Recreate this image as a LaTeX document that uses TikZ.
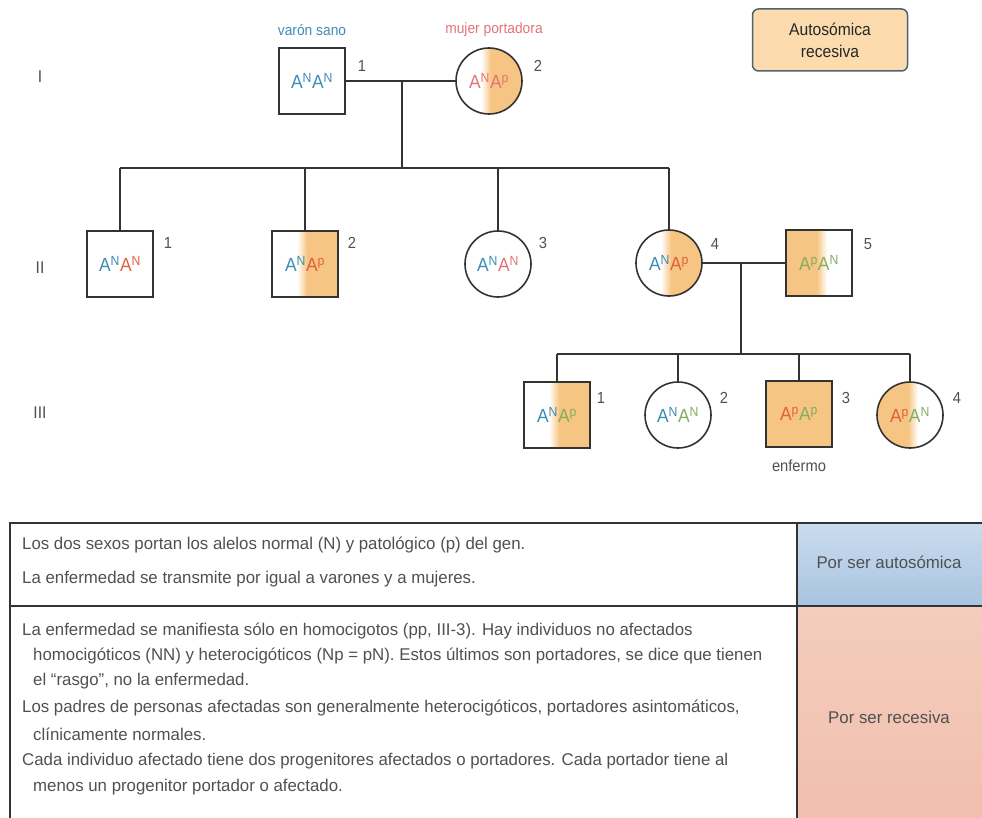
\documentclass[tikz,border=0pt]{standalone}
\usepackage{fontspec}
\setmainfont{Liberation Sans}
\newfontfamily\cond[FakeStretch=0.92]{Liberation Sans}
\newfontfamily\tabfont[FakeStretch=0.99]{Liberation Sans}
\usetikzlibrary{positioning}
\definecolor{ln}{HTML}{333333}
\definecolor{carr}{HTML}{F7C583}
\definecolor{tealc}{HTML}{3C8DB3}
\definecolor{redc}{HTML}{E0603E}
\definecolor{pinkc}{HTML}{E27478}
\definecolor{greenc}{HTML}{84AD5C}
\definecolor{txt}{HTML}{505050}
\definecolor{legfill}{HTML}{FCDCAE}
\definecolor{legdraw}{HTML}{4A6470}
\definecolor{bluetop}{HTML}{CADCEE}
\definecolor{bluebot}{HTML}{A8C4E0}
\definecolor{saltop}{HTML}{F4CDBC}
\definecolor{salbot}{HTML}{F1BFAE}
\newcommand{\genot}[4]{\textcolor{#1}{A\textsuperscript{#2}}\textcolor{#3}{A\textsuperscript{#4}}}
\tikzset{
  indiv/.style={draw=ln, line width=1.6pt, minimum size=66pt, inner sep=0pt,
    font=\cond\fontsize{19}{19}\selectfont},
  male/.style={indiv, rectangle},
  female/.style={indiv, circle},
  halfR/.style={path picture={
    \fill[carr] (path picture bounding box.north) rectangle (path picture bounding box.south east);
    \shade[left color=white, right color=carr] ([xshift=-8pt]path picture bounding box.north) rectangle ([xshift=2pt]path picture bounding box.south);
  }},
  halfL/.style={path picture={
    \fill[carr] (path picture bounding box.north west) rectangle (path picture bounding box.south);
    \shade[left color=carr, right color=white] ([xshift=-2pt]path picture bounding box.north) rectangle ([xshift=8pt]path picture bounding box.south);
  }},
  affected/.style={fill=carr},
  pline/.style={draw=ln, line width=1.6pt},
  num/.style={font=\cond\fontsize{16}{16}\selectfont, text=txt},
  gen/.style={font=\cond\fontsize{17}{17}\selectfont, text=txt},
  tline/.style={draw=ln, line width=1.8pt},
  ttext/.style={anchor=west, inner sep=0pt, font=\tabfont\fontsize{17}{17}\selectfont, text=txt},
  ctext/.style={inner sep=0pt, font=\tabfont\fontsize{17}{17}\selectfont, text=txt},
}
\begin{document}
\begin{tikzpicture}[x=1pt,y=-1pt]
\useasboundingbox (0,0) rectangle (982,818);
% generation labels
\node[gen] (gI) at (40,77) {I};
\node[gen] (gII) at (40,268) {II};
\node[gen] (gIII) at (40,413) {III};
% legend
\node[draw=legdraw, line width=1.5pt, fill=legfill, rounded corners=6pt,
  minimum width=155pt, minimum height=62pt, align=center,
  font=\cond\fontsize{17}{22}\selectfont, text=black!85] (leg) at (830,40) {Autosómica\\recesiva};
% generation I
\node[male] (i1) at (312,81) {\genot{tealc}{N}{tealc}{N}};
\node[female, halfR] (i2) at (489,81) {\genot{pinkc}{N}{pinkc}{p}};
\node[font=\cond\fontsize{15}{15}\selectfont, text=tealc] (t1) at (312,30) {varón sano};
\node[font=\cond\fontsize{15}{15}\selectfont, text=pinkc] (t2) at (494,30) {mujer portadora};
\node[num] (n11) at (362,66) {1};
\node[num] (n12) at (538,66) {2};
\coordinate (m1) at (402,81);
\coordinate (s1) at (402,168);
\draw[pline] (i1.east) -- (i2.west);
\draw[pline] (m1) -- (s1);
% generation II
\node[male] (ii1) at (120,264) {\genot{tealc}{N}{redc}{N}};
\node[male, halfR] (ii2) at (305,264) {\genot{tealc}{N}{redc}{p}};
\node[female] (ii3) at (498,264) {\genot{tealc}{N}{pinkc}{N}};
\node[female, halfR] (ii4) at (669,263) {\genot{tealc}{N}{redc}{p}};
\node[male, halfL] (ii5) at (819,263) {\genot{greenc}{p}{greenc}{N}};
\node[num] (n21) at (168,243) {1};
\node[num] (n22) at (352,243) {2};
\node[num] (n23) at (543,243) {3};
\node[num] (n24) at (715,244) {4};
\node[num] (n25) at (868,244) {5};
\draw[pline] (ii1.north |- s1) -- (ii4.north |- s1);
\foreach \n in {ii1,ii2,ii3,ii4} \draw[pline] (\n.north) -- (\n.north |- s1);
\coordinate (m2) at (741,263);
\coordinate (s2) at (741,354);
\draw[pline] (ii4.east) -- (ii5.west);
\draw[pline] (m2) -- (s2);
% generation III
\node[male, halfR] (iii1) at (557,415) {\genot{tealc}{N}{greenc}{p}};
\node[female] (iii2) at (678,415) {\genot{tealc}{N}{greenc}{N}};
\node[male, affected] (iii3) at (799,414) {\genot{redc}{p}{greenc}{p}};
\node[female, halfL] (iii4) at (910,415) {\genot{redc}{p}{greenc}{N}};
\node[num] (n31) at (601,398) {1};
\node[num] (n32) at (724,398) {2};
\node[num] (n33) at (846,398) {3};
\node[num] (n34) at (957,398) {4};
\node[num] (enf) at (799,466) {enfermo};
\draw[pline] (iii1.north |- s2) -- (iii4.north |- s2);
\foreach \n in {iii1,iii2,iii3,iii4} \draw[pline] (\n.north) -- (\n.north |- s2);
% table
\shade[top color=bluetop, bottom color=bluebot] (797,523) rectangle (982,606);
\shade[top color=saltop, bottom color=salbot] (797,606) rectangle (982,818);
\draw[tline] (10,818) -- (10,523) -- (982,523);
\draw[tline] (10,606) -- (982,606);
\draw[tline] (797,523) -- (797,818);
\node[ttext] (r1) at (22,545) {Los dos sexos portan los alelos normal (N) y patológico (p) del gen.};
\node[ttext] (r2) at (22,579) {La enfermedad se transmite por igual a varones y a mujeres.};
\node[ctext] (c1) at (889,562) {Por ser autosómica};
\node[ttext] (r3) at (22,631) {La enfermedad se manifiesta sólo en homocigotos (pp, III-3). Hay individuos no afectados};
\node[ttext] (r4) at (33,656) {homocigóticos (NN) y heterocigóticos (Np = pN). Estos últimos son portadores, se dice que tienen};
\node[ttext] (r5) at (33,681) {el “rasgo”, no la enfermedad.};
\node[ttext] (r6) at (22,708) {Los padres de personas afectadas son generalmente heterocigóticos, portadores asintomáticos,};
\node[ttext] (r7) at (33,734) {clínicamente normales.};
\node[ttext] (r8) at (22,761) {Cada individuo afectado tiene dos progenitores afectados o portadores. Cada portador tiene al};
\node[ttext] (r9) at (33,787) {menos un progenitor portador o afectado.};
\node[ctext] (c2) at (889,717) {Por ser recesiva};
\end{tikzpicture}
\end{document}
